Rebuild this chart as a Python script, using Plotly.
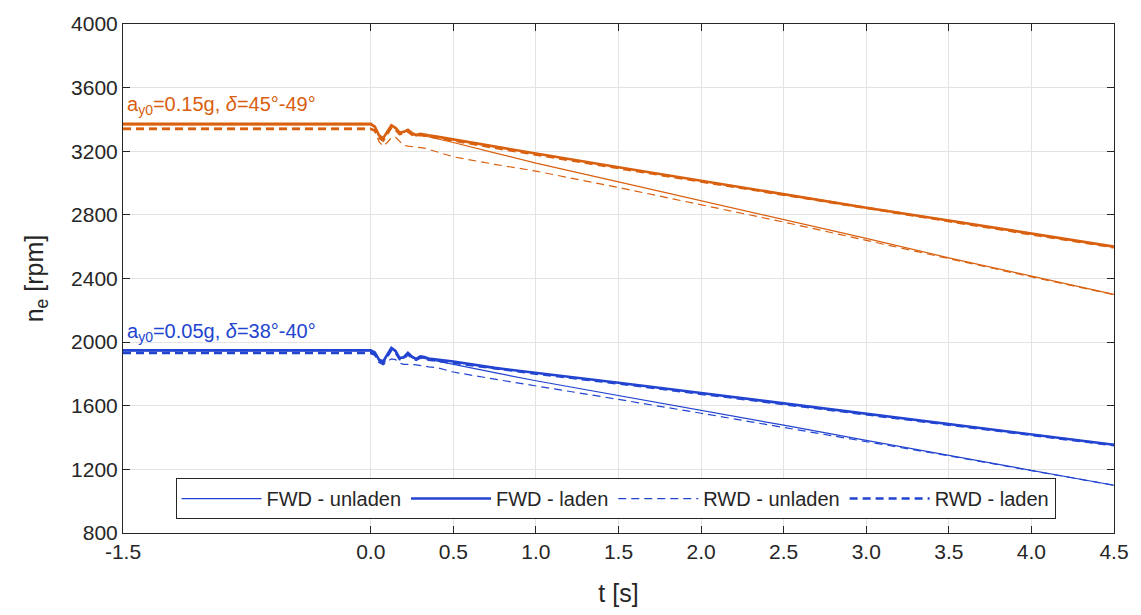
import plotly.graph_objects as go

# Time samples [s]: dense around the steering event, sparse in the steady decline
t = [-1.5, 0.0, 0.025, 0.05, 0.075, 0.1, 0.125, 0.15, 0.175, 0.2,
     0.225, 0.25, 0.275, 0.3, 0.325, 0.35, 0.4, 0.5, 0.75, 1.0,
     1.5, 2.0, 2.5, 3.0, 3.5, 4.0, 4.5]

# Engine speed [rpm], a_y0 = 0.15g
hi_fwd_unladen = [3366, 3366, 3350, 3295, 3278, 3320, 3358, 3342, 3312, 3318,
                  3330, 3308, 3296, 3302, 3296, 3288, 3275, 3255, 3190, 3125,
                  3008, 2890, 2770, 2652, 2530, 2415, 2300]
hi_fwd_laden = [3372, 3372, 3355, 3300, 3282, 3325, 3364, 3348, 3318, 3322,
                3335, 3314, 3302, 3310, 3307, 3300, 3292, 3274, 3230, 3186,
                3100, 3014, 2930, 2845, 2765, 2682, 2600]
hi_rwd_unladen = [3345, 3345, 3325, 3260, 3232, 3255, 3285, 3288, 3262, 3238,
                  3232, 3230, 3228, 3225, 3220, 3212, 3196, 3165, 3118, 3075,
                  2972, 2865, 2755, 2640, 2524, 2410, 2298]
hi_rwd_laden = [3340, 3340, 3330, 3285, 3268, 3310, 3350, 3335, 3308, 3312,
                3325, 3305, 3295, 3302, 3298, 3292, 3285, 3268, 3222, 3178,
                3094, 3010, 2926, 2843, 2760, 2678, 2596]

# Engine speed [rpm], a_y0 = 0.05g
lo_fwd_unladen = [1946, 1946, 1932, 1886, 1874, 1915, 1960, 1940, 1896, 1900,
                  1926, 1902, 1890, 1903, 1898, 1890, 1882, 1862, 1808, 1757,
                  1665, 1572, 1478, 1382, 1288, 1195, 1100]
lo_fwd_laden = [1948, 1948, 1935, 1890, 1878, 1920, 1964, 1945, 1900, 1905,
                1932, 1908, 1895, 1910, 1906, 1897, 1890, 1878, 1838, 1808,
                1745, 1680, 1615, 1550, 1483, 1418, 1355]
lo_rwd_unladen = [1930, 1930, 1918, 1872, 1858, 1875, 1895, 1890, 1868, 1860,
                  1862, 1860, 1857, 1852, 1848, 1845, 1840, 1812, 1767, 1726,
                  1640, 1553, 1465, 1375, 1285, 1192, 1100]
lo_rwd_laden = [1932, 1932, 1922, 1880, 1868, 1908, 1952, 1935, 1893, 1897,
                1924, 1900, 1889, 1903, 1899, 1890, 1883, 1872, 1833, 1802,
                1740, 1675, 1611, 1546, 1480, 1415, 1352]

labels = ["FWD - unladen", "FWD - laden", "RWD - unladen", "RWD - laden"]
x_ticks = [-1.5, 0.0, 0.5, 1.0, 1.5, 2.0, 2.5, 3.0, 3.5, 4.0, 4.5]
y_ticks = [800, 1200, 1600, 2000, 2400, 2800, 3200, 3600, 4000]

ORANGE = "#D9600F"
BLUE = "#2244D0"
TEXT = "#262626"
FONT = "Liberation Sans, Arial, Helvetica, sans-serif"

styles = [
    dict(width=1.2, dash="solid"),
    dict(width=2.6, dash="solid"),
    dict(width=1.2, dash="8px,5px"),
    dict(width=2.6, dash="8px,5px"),
]

hi_series = [hi_fwd_unladen, hi_fwd_laden, hi_rwd_unladen, hi_rwd_laden]
lo_series = [lo_fwd_unladen, lo_fwd_laden, lo_rwd_unladen, lo_rwd_laden]

fig = go.Figure()

for series, st in zip(hi_series, styles):
    fig.add_trace(go.Scatter(x=t, y=series, mode="lines", showlegend=False,
                             line=dict(color=ORANGE, width=st["width"], dash=st["dash"])))

for name, series, st in zip(labels, lo_series, styles):
    fig.add_trace(go.Scatter(x=t, y=series, mode="lines", name=name,
                             line=dict(color=BLUE, width=st["width"], dash=st["dash"])))

fig.add_annotation(x=-1.49, y=3485, xref="x", yref="y", xanchor="left", yanchor="middle",
                   text="a<sub>y0</sub>=0.15g, <i>δ</i>=45°-49°", showarrow=False,
                   font=dict(family=FONT, size=20, color=ORANGE))
fig.add_annotation(x=-1.49, y=2062, xref="x", yref="y", xanchor="left", yanchor="middle",
                   text="a<sub>y0</sub>=0.05g, <i>δ</i>=38°-40°", showarrow=False,
                   font=dict(family=FONT, size=20, color=BLUE))

axis_common = dict(showgrid=True, gridcolor="#E3E3E3", gridwidth=1,
                   showline=True, linecolor=TEXT, linewidth=1, mirror="ticks",
                   ticks="inside", ticklen=7, tickcolor=TEXT, zeroline=False,
                   tickfont=dict(family=FONT, size=21, color=TEXT))

fig.update_xaxes(range=[-1.5, 4.5], tickvals=x_ticks, ticktext=[f"{v:.1f}" for v in x_ticks],
                 title=dict(text="t [s]", font=dict(family=FONT, size=25, color=TEXT), standoff=22),
                 **axis_common)
fig.update_yaxes(range=[800, 4000], tickvals=y_ticks,
                 title=dict(text="n<sub>e</sub> [rpm]", font=dict(family=FONT, size=25, color=TEXT), standoff=20),
                 **axis_common)

fig.update_layout(
    width=1141, height=615,
    margin=dict(l=123, r=22, t=17, b=82),
    plot_bgcolor="white", paper_bgcolor="white",
    legend=dict(orientation="h", x=0.053, y=0.108, xanchor="left", yanchor="top",
                bgcolor="white", bordercolor=TEXT, borderwidth=1,
                itemwidth=80, tracegroupgap=0,
                font=dict(family=FONT, size=20, color=TEXT)),
)

fig.write_html("out.html")
